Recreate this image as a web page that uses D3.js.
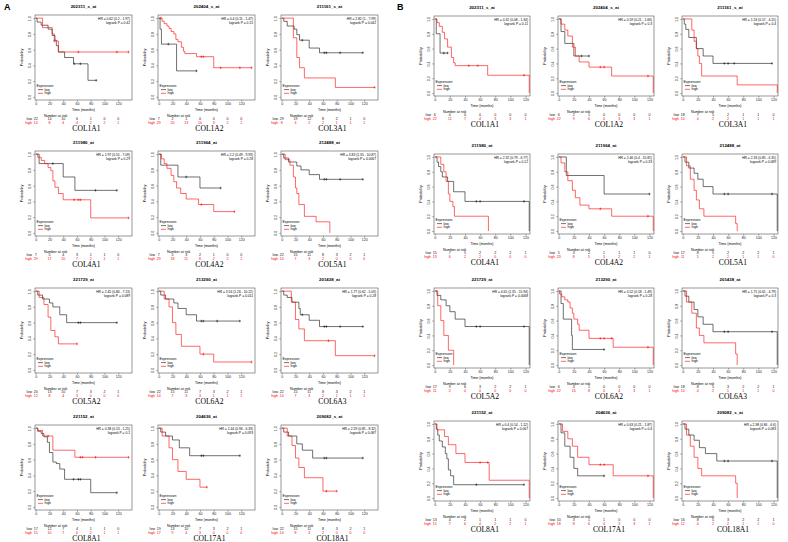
<!DOCTYPE html>
<html><head><meta charset="utf-8">
<script src="https://cdn.jsdelivr.net/npm/d3@7"></script>
<style>body{margin:0;background:#fff}svg{display:block}</style>
</head><body>
<svg id="c" width="788" height="542"></svg>
<script>
// ---------- DATA ----------
const timeTicks = [0, 20, 40, 60, 80, 100, 120];
const probTicks = [0, 0.2, 0.4, 0.6, 0.8, 1.0];

const probes = ["202311_s_at","202404_s_at","211161_s_at","211980_at","211964_at","212488_at",
                "221729_at","213290_at","201438_at","221152_at","204636_at","209082_s_at"];
const genes = ["COL1A1","COL1A2","COL3A1","COL4A1","COL4A2","COL5A1",
               "COL5A2","COL6A2","COL6A3","COL8A1","COL17A1","COL18A1"];

// Panel A
const hrA = ["HR = 0.62 (0.2 - 1.97)","HR = 0.4 (0.11 - 1.47)","HR = 2.82 (1 - 7.99)",
             "HR = 1.97 (0.55 - 7.09)","HR = 2.2 (0.49 - 9.93)","HR = 3.83 (1.35 - 10.87)",
             "HR = 2.45 (0.84 - 7.13)","HR = 3.56 (1.26 - 10.22)","HR = 1.77 (0.62 - 5.03)",
             "HR = 0.38 (0.13 - 1.25)","HR = 2.44 (0.94 - 6.33)","HR = 2.59 (0.85 - 8.32)"];
const pA = ["logrank P = 0.42","logrank P = 0.15","logrank P = 0.042",
            "logrank P = 0.29","logrank P = 0.28","logrank P = 0.0067",
            "logrank P = 0.089","logrank P = 0.011","logrank P = 0.28",
            "logrank P = 0.1","logrank P = 0.093","logrank P = 0.087"];
const riskLowA = [[22,14,10,6,1,0,0],[7,2,1,0,0,0,0],[29,19,12,8,2,1,0],
                  [7,5,4,3,1,1,0],[7,5,3,2,1,0,0],[22,15,11,8,3,2,1],
                  [20,13,10,7,3,2,1],[22,15,11,7,3,2,1],[22,15,11,8,3,2,1],
                  [17,12,7,4,1,1,0],[19,13,10,7,3,2,1],[22,15,11,8,3,2,1]];
const riskHighA = [[14,8,4,4,2,2,1],[29,20,13,10,3,2,1],[8,4,2,2,1,1,1],
                   [29,17,10,7,2,1,1],[29,18,11,8,2,2,1],[14,7,3,2,0,0,0],
                   [12,8,4,3,0,0,0],[14,7,3,3,1,1,1],[14,7,3,2,1,1,1],
                   [15,10,7,6,2,1,1],[17,9,4,3,0,0,0],[14,8,3,2,0,0,0]];
const lowA = [
  [[0,1],[2,0.95],[8,0.91],[18,0.86],[24,0.78],[28,0.72],[30,0.65],[33,0.57],[42,0.5],[55,0.42],[76,0.21],[88,0.21]],
  [[0,1],[2,0.86],[4,0.67],[26,0.33],[55,0.33]],
  [[0,1],[3,0.96],[8,0.9],[18,0.86],[22,0.79],[26,0.72],[40,0.62],[55,0.56],[118,0.56]],
  [[0,1],[5,0.88],[40,0.71],[57,0.54],[118,0.54]],
  [[0,1],[3,0.86],[28,0.71],[60,0.57],[90,0.57]],
  [[0,1],[3,0.95],[10,0.9],[22,0.85],[28,0.8],[40,0.74],[55,0.68],[118,0.68]],
  [[0,1],[3,0.95],[10,0.9],[20,0.85],[25,0.8],[35,0.7],[45,0.6],[118,0.6]],
  [[0,1],[3,0.95],[10,0.9],[22,0.85],[28,0.78],[40,0.7],[55,0.62],[118,0.62]],
  [[0,1],[3,0.95],[8,0.92],[15,0.86],[25,0.78],[27,0.7],[40,0.63],[55,0.55],[118,0.55]],
  [[0,1],[3,0.96],[8,0.93],[12,0.89],[17,0.82],[20,0.69],[25,0.57],[30,0.55],[35,0.48],[42,0.35],[80,0.18],[118,0.18]],
  [[0,1],[3,0.95],[10,0.9],[20,0.85],[30,0.75],[45,0.65],[118,0.65]],
  [[0,1],[3,0.95],[10,0.9],[22,0.8],[30,0.72],[45,0.62],[118,0.62]]
];
const highA = [
  [[0,1],[10,0.88],[24,0.8],[27,0.71],[33,0.57],[135,0.57]],
  [[0,1],[5,0.96],[8,0.93],[12,0.9],[15,0.87],[18,0.83],[22,0.8],[25,0.73],[28,0.7],[33,0.63],[36,0.58],[38,0.55],[55,0.51],[80,0.37],[135,0.37]],
  [[0,1],[17,0.75],[22,0.5],[26,0.37],[33,0.24],[78,0.12],[135,0.12]],
  [[0,1],[3,0.96],[8,0.92],[13,0.88],[18,0.83],[22,0.79],[25,0.66],[28,0.58],[33,0.5],[40,0.42],[80,0.19],[135,0.19]],
  [[0,1],[4,0.94],[8,0.88],[12,0.82],[18,0.73],[22,0.65],[26,0.57],[32,0.5],[40,0.43],[58,0.36],[80,0.27],[110,0.27]],
  [[0,1],[5,0.93],[12,0.86],[17,0.71],[20,0.57],[22,0.5],[25,0.36],[33,0.21],[50,0.14],[70,0]],
  [[0,1],[5,0.92],[12,0.83],[18,0.67],[22,0.5],[28,0.42],[33,0.33],[60,0.33]],
  [[0,1],[8,0.9],[15,0.8],[20,0.6],[25,0.45],[33,0.3],[60,0.2],[80,0.1],[135,0.1]],
  [[0,1],[14,0.86],[20,0.64],[25,0.52],[33,0.37],[78,0.18],[135,0.18]],
  [[0,1],[3,0.97],[10,0.9],[25,0.72],[57,0.63],[135,0.63]],
  [[0,1],[5,0.9],[15,0.75],[20,0.6],[28,0.45],[40,0.35],[60,0.25],[70,0.25]],
  [[0,1],[8,0.9],[15,0.78],[20,0.62],[25,0.5],[33,0.37],[60,0.2],[80,0.2]]
];
const lowCensA = [[56,65,88],[14,55],[30,62,65,85,118],[25,87,118],[40,90],[62,65,85,118],
                  [62,65,118],[62,65,85,118],[30,62,65,85,118],[55,62,65,118],[62,65,118],[62,65,118]];
const highCensA = [[27,62,118,135],[3,62,65,90,118,135],[135],[56,62,65,135],[62,110],[],
                   [60],[65,135],[68,135],[18,65,68,87,135],[70],[65,80]];

// Panel B
const hrB = ["HR = 0.32 (0.08 - 1.34)","HR = 0.59 (0.21 - 1.66)","HR = 1.53 (0.57 - 4.15)",
             "HR = 2.32 (0.79 - 6.77)","HR = 2.46 (0.4 - 15.81)","HR = 2.33 (0.85 - 6.35)",
             "HR = 4.65 (1.35 - 15.94)","HR = 0.52 (0.18 - 1.49)","HR = 1.71 (0.61 - 4.79)",
             "HR = 0.4 (0.14 - 1.12)","HR = 0.63 (0.21 - 1.87)","HR = 2.38 (0.86 - 6.6)"];
const pB = ["logrank P = 0.11","logrank P = 0.3","logrank P = 0.4",
            "logrank P = 0.12","logrank P = 0.33","logrank P = 0.089",
            "logrank P = 0.0068","logrank P = 0.28","logrank P = 0.3",
            "logrank P = 0.067","logrank P = 0.4","logrank P = 0.083"];
const riskLowB = [[6,0,0,0,0,0,0],[6,2,1,0,0,0,0],[18,7,5,2,1,1,0],
                  [15,7,5,2,2,2,1],[5,3,2,1,1,1,0],[17,8,5,2,2,2,1],
                  [17,9,6,3,2,2,1],[6,3,1,0,0,0,0],[18,8,5,3,2,2,1],
                  [13,4,2,1,1,1,0],[10,3,1,1,0,0,0],[16,8,5,3,2,2,1]];
const riskHighB = [[22,11,7,4,3,3,1],[22,9,6,4,3,3,1],[10,4,2,2,1,1,1],
                   [13,6,2,2,0,0,0],[23,8,5,3,2,2,1],[11,5,2,2,1,1,0],
                   [11,2,0,0,0,0,0],[22,16,8,4,4,3,1],[10,4,2,1,1,1,0],
                   [15,7,6,4,2,2,1],[18,8,6,4,3,3,1],[12,4,2,2,1,1,0]];
const lowB = [
  [[0,1],[2,0.8],[7,0.54],[17,0.54]],
  [[0,1],[3,0.83],[8,0.67],[20,0.5],[40,0.5]],
  [[0,1],[2,0.93],[4,0.86],[8,0.75],[18,0.6],[27,0.5],[40,0.4],[118,0.4]],
  [[0,1],[3,0.93],[5,0.87],[8,0.8],[10,0.73],[17,0.67],[25,0.53],[40,0.4],[125,0.4],[125,0]],
  [[0,1],[10,0.75],[60,0.5],[120,0.5]],
  [[0,1],[3,0.93],[8,0.85],[15,0.78],[20,0.7],[27,0.6],[40,0.5],[125,0.5],[125,0]],
  [[0,1],[3,0.94],[8,0.88],[15,0.8],[20,0.72],[27,0.62],[40,0.52],[125,0.52],[125,0]],
  [[0,1],[3,0.83],[6,0.62],[17,0.4],[18,0.21],[60,0.21]],
  [[0,1],[3,0.93],[8,0.85],[15,0.75],[20,0.65],[27,0.55],[40,0.45],[125,0.45],[125,0]],
  [[0,1],[2,0.93],[4,0.85],[6,0.77],[10,0.69],[14,0.6],[16,0.53],[18,0.38],[21,0.3],[25,0.18],[118,0.18]],
  [[0,1],[3,0.88],[8,0.7],[15,0.55],[20,0.4],[25,0.3],[60,0.3]],
  [[0,1],[3,0.93],[8,0.85],[15,0.78],[22,0.68],[30,0.6],[45,0.5],[125,0.5],[125,0]]
];
const highB = [
  [[0,1],[3,0.95],[6,0.9],[10,0.82],[13,0.73],[17,0.62],[22,0.48],[25,0.41],[27,0.37],[70,0.24],[125,0.24],[125,0]],
  [[0,1],[3,0.93],[8,0.85],[12,0.77],[18,0.62],[22,0.5],[27,0.42],[40,0.35],[70,0.23],[125,0.23],[125,0]],
  [[0,1],[12,0.85],[15,0.7],[18,0.6],[20,0.5],[22,0.4],[25,0.23],[72,0.11],[125,0.11],[125,0]],
  [[0,1],[8,0.9],[12,0.8],[15,0.67],[18,0.5],[20,0.4],[24,0.33],[26,0.2],[71,0.2],[71,0]],
  [[0,1],[3,0.92],[8,0.8],[12,0.68],[18,0.55],[22,0.45],[28,0.35],[40,0.3],[70,0.2],[125,0.2],[125,0]],
  [[0,1],[5,0.88],[10,0.7],[15,0.55],[18,0.42],[22,0.3],[28,0.2],[70,0.1],[72,0]],
  [[0,1],[4,0.8],[8,0.6],[12,0.4],[18,0.2],[25,0]],
  [[0,1],[1,0.96],[4,0.92],[8,0.88],[12,0.85],[15,0.77],[18,0.7],[20,0.62],[25,0.55],[27,0.47],[40,0.36],[72,0.24],[125,0.24],[125,0]],
  [[0,1],[5,0.85],[12,0.7],[18,0.5],[22,0.4],[28,0.3],[70,0.15],[72,0]],
  [[0,1],[3,0.92],[13,0.83],[18,0.72],[28,0.6],[40,0.48],[72,0.24],[125,0.24],[125,0]],
  [[0,1],[5,0.9],[12,0.8],[18,0.7],[25,0.55],[40,0.45],[72,0.3],[125,0.3],[125,0]],
  [[0,1],[5,0.85],[10,0.7],[15,0.55],[20,0.4],[25,0.3],[70,0.2],[72,0]]
];
const lowCensB = [[12,17],[30,40],[55,60,68,118],[55,60,118],[120],[55,60,118],
                  [55,60,118],[60],[55,60,118],[55,118],[60],[55,60,118]];
const highCensB = [[45,57,118],[55,60,118],[],[],[55,118],[],
                   [],[55,60,70,118],[],[60,70],[55,60,118],[]];

// ---------- LAYOUT ----------
const svg = d3.select("#c");
const FONT = "Liberation Sans, Arial, sans-serif";
const RED = "#ff0000";

const sets = [
  { cols:[35,158,281], titles:[6,142,279,416], bw:97, bh:85, xmax:140,
    hr:hrA, p:pA, rl:riskLowA, rh:riskHighA, low:lowA, high:highA, lc:lowCensA, hc:highCensA },
  { cols:[434,558,682], titles:[7,145,279,412], bw:96, bh:80, xmax:126,
    hr:hrB, p:pB, rl:riskLowB, rh:riskHighB, low:lowB, high:highB, lc:lowCensB, hc:highCensB }
];

svg.append("text").attr("x",4).attr("y",10).text("A")
  .attr("font-family",FONT).attr("font-size",9).attr("font-weight","bold");
svg.append("text").attr("x",397).attr("y",10).text("B")
  .attr("font-family",FONT).attr("font-size",9).attr("font-weight","bold");

function survAt(curve, t){
  let s = 1;
  for (const [ti, si] of curve) { if (ti <= t) s = si; }
  return s;
}

sets.forEach(S => {
  for (let i = 0; i < 12; i++) {
    const r = Math.floor(i/3), c = i % 3;
    const bx = S.cols[c], ty = S.titles[r], by = ty + 9;
    const bw = S.bw, bh = S.bh;
    const x = d3.scaleLinear().domain([-1, S.xmax]).range([bx, bx+bw]);
    const y = d3.scaleLinear().domain([-0.04, 1.04]).range([by+bh, by]);
    const g = svg.append("g");

    g.append("text").attr("x", bx+bw/2).attr("y", ty+1.5).attr("text-anchor","middle")
      .attr("font-family",FONT).attr("font-size",4.4).attr("font-weight","bold").text(probes[i]);

    g.append("rect").attr("x",bx).attr("y",by).attr("width",bw).attr("height",bh)
      .attr("fill","none").attr("stroke","#333").attr("stroke-width",0.5);

    const xa = g.append("g").attr("transform",`translate(0,${by+bh})`)
      .call(d3.axisBottom(x).tickValues(timeTicks).tickSize(1.8).tickPadding(0.8));
    xa.select(".domain").remove();
    xa.selectAll("line").attr("stroke","#333").attr("stroke-width",0.4);
    xa.selectAll("text").attr("font-family",FONT).attr("font-size",3.6).attr("fill","#222");

    const ya = g.append("g").attr("transform",`translate(${bx},0)`)
      .call(d3.axisLeft(y).tickValues(probTicks).tickSize(1.8).tickFormat(d3.format(".1f")));
    ya.select(".domain").remove();
    ya.selectAll("line").attr("stroke","#333").attr("stroke-width",0.4);
    ya.selectAll("text").attr("font-family",FONT).attr("font-size",3.6).attr("fill","#222")
      .attr("text-anchor","middle").attr("x",0).attr("dy",0)
      .attr("transform","translate(-4.3,0) rotate(-90)");

    g.append("text").attr("transform",`translate(${bx-12},${by+bh/2}) rotate(-90)`)
      .attr("text-anchor","middle").attr("font-family",FONT).attr("font-size",3.8).text("Probability");
    g.append("text").attr("x", bx+bw/2).attr("y", by+bh+10.5).attr("text-anchor","middle")
      .attr("font-family",FONT).attr("font-size",3.6).text("Time (months)");

    g.append("text").attr("x",bx+bw-2).attr("y",by+5).attr("text-anchor","end")
      .attr("font-family",FONT).attr("font-size",3.3).text(S.hr[i]);
    g.append("text").attr("x",bx+bw-2).attr("y",by+8.8).attr("text-anchor","end")
      .attr("font-family",FONT).attr("font-size",3.3).text(S.p[i]);

    const stepPath = pts => {
      let d = `M${x(pts[0][0])},${y(pts[0][1])}`;
      for (let k = 1; k < pts.length; k++) d += `H${x(pts[k][0])}V${y(pts[k][1])}`;
      return d;
    };
    [[S.low[i], "#111", S.lc[i]], [S.high[i], RED, S.hc[i]]].forEach(([pts, col, cens]) => {
      g.append("path").attr("d", stepPath(pts)).attr("fill","none")
        .attr("stroke",col).attr("stroke-width",0.6);
      cens.forEach(t => {
        const s = survAt(pts, t);
        g.append("line").attr("x1",x(t)).attr("x2",x(t)).attr("y1",y(s)-1.3).attr("y2",y(s)+1.3)
          .attr("stroke",col).attr("stroke-width",0.5);
        g.append("line").attr("x1",x(t)-1).attr("x2",x(t)+1).attr("y1",y(s)).attr("y2",y(s))
          .attr("stroke",col).attr("stroke-width",0.5);
      });
    });

    const lx = bx + 1.5, ly = by + bh;
    g.append("text").attr("x",lx).attr("y",ly-13).attr("font-family",FONT).attr("font-size",3.4).text("Expression");
    [["low","#111",-9.3],["high",RED,-5.6]].forEach(([lab,col,dy]) => {
      g.append("line").attr("x1",lx+1.5).attr("x2",lx+6.5).attr("y1",ly+dy-1.1).attr("y2",ly+dy-1.1)
        .attr("stroke",col).attr("stroke-width",0.6);
      g.append("text").attr("x",lx+8).attr("y",ly+dy).attr("font-family",FONT).attr("font-size",3.4).text(lab);
    });

    const base = by + bh;
    g.append("text").attr("x", bx+9).attr("y", base+16.5).attr("font-family",FONT)
      .attr("font-size",3.6).text("Number at risk");
    [["low","#111",S.rl[i],20],["high",RED,S.rh[i],23.6]].forEach(([lab,col,vals,dy]) => {
      g.append("text").attr("x",bx-3).attr("y",base+dy).attr("text-anchor","end")
        .attr("font-family",FONT).attr("font-size",3.6).attr("fill",col).text(lab);
      vals.forEach((v,k) => {
        g.append("text").attr("x",x(timeTicks[k])).attr("y",base+dy).attr("text-anchor","middle")
          .attr("font-family",FONT).attr("font-size",3.6).attr("fill",col).text(v);
      });
    });

    g.append("text").attr("x", bx+bw/2+3).attr("y", base+30.5).attr("text-anchor","middle")
      .attr("font-family","Liberation Serif, Times New Roman, serif").attr("font-size",7.6).text(genes[i]);
  }
});
</script></body></html>
